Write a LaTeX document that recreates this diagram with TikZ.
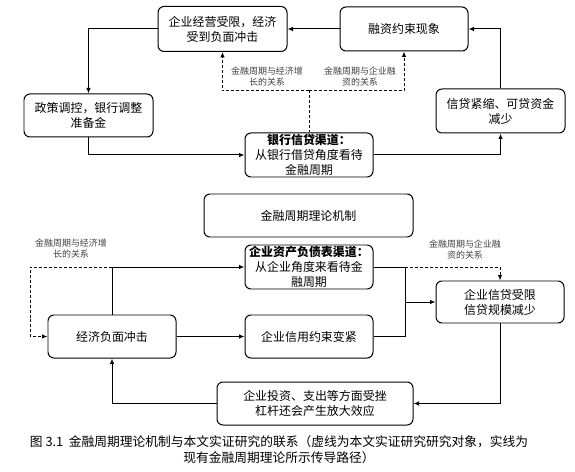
\documentclass[tikz,border=0pt]{standalone}
\usepackage{fontspec}
\setmainfont{Noto Sans CJK SC}
\usetikzlibrary{arrows.meta,shapes,positioning}
\definecolor{labelGray}{rgb}{0.25,0.25,0.25}
\tikzset{
	box/.style={draw, rounded corners=6bp, line width=1pt, minimum width=128bp, minimum height=43bp, inner sep=0pt, align=center, font=\fontsize{12}{15}\selectfont},
	link/.style={line width=1pt},
	flow/.style={link, -{Latex[length=5.5bp,width=4.5bp]}},
	studiedline/.style={line width=1pt, dash pattern=on 3pt off 2pt},
	studied/.style={studiedline, -{Latex[length=5.5bp,width=4.5bp]}},
	relation/.style={align=center, font=\fontsize{9}{11}\selectfont, text=labelGray, inner sep=0pt}
}

\begin{document}
\begin{tikzpicture}[x=1bp, y=-1bp]
			\useasboundingbox (0,0) rectangle (575,472);

			% bank credit channel
			\node[box, minimum width=129bp, minimum height=45bp] (ope) at (222.5,29) {企业经营受限，经济\\受到负面冲击};
			\node[box, minimum height=44bp] (fin) at (404,29) {融资约束现象};
			\node[box, minimum width=129bp] (pol) at (88.5,115.5) {政策调控，银行调整\\准备金};
			\node[box, minimum width=129bp, minimum height=44bp] (crd) at (500.5,111) {信贷紧缩、可贷资金\\减少};
			\node[box, minimum height=44bp] (bank) at (309,155) {\textbf{银行信贷渠道：}\\从银行借贷角度看待\\金融周期};

			% balance sheet channel
			\node[box, minimum width=209bp] (mech) at (308.5,215.5) {金融周期理论机制};
			\node[box, minimum height=44bp] (bal) at (309,267) {\textbf{企业资产负债表渠道：}\\从企业角度来看待金\\融周期};
			\node[box] (shock) at (112,336.5) {经济负面冲击};
			\node[box] (cons) at (309,336.5) {企业信用约束变紧};
			\node[box, minimum height=42bp] (lim) at (500,302) {企业信贷受限\\信贷规模减少};
			\node[box, minimum width=196bp] (inv) at (315,403.5) {企业投资、支出等方面受挫\\杠杆还会产生放大效应};

			% junctions
			\coordinate (dtop) at (309,91);
			\coordinate (hj) at (112,267);
			\coordinate (dl) at (30,267);
			\coordinate (gj) at (405,267);
			\coordinate (mj) at (405,302);

			% edges, top
			\draw[flow] (fin.west) -- (ope.east);
			\draw[flow] (ope.west) -| (pol.north);
			\draw[flow] (pol.south) |- (bank.west);
			\draw[flow] (bank.east) -| (crd.south);
			\draw[flow] (crd.north) |- (fin.east);
			\draw[studiedline] (bank.north) -- (dtop);
			\draw[studied] (dtop) -| (ope.south);
			\draw[studied] (dtop) -| (fin.south);
			\node[relation] (rg1) at (267,77) {金融周期与经济增\\长的关系};
			\node[relation] (rf1) at (360,77) {金融周期与企业融\\资的关系};

			% edges, bottom
			\draw[flow] (shock.north) |- (bal.west);
			\draw[studied] (hj) -- (dl) |- (shock.west);
			\draw[flow] (shock.east) -- (cons.west);
			\draw[link] (bal.east) -| (mj);
			\draw[link] (cons.east) -| (mj);
			\draw[flow] (mj) -- (lim.west);
			\draw[studied] (gj) -| (lim.north);
			\draw[flow] (lim.south) |- (inv.east);
			\draw[flow] (inv.west) -| (shock.south);
			\node[relation] (rg2) at (71,249) {金融周期与经济增\\长的关系};
			\node[relation] (rf2) at (465,250) {金融周期与企业融\\资的关系};

			% caption
			\node[align=center, inner sep=0pt, font=\fontsize{12.8}{16}\selectfont] (cap) at (279,450) {图 3.1\ \ 金融周期理论机制与本文实证研究的联系（虚线为本文实证研究研究对象，实线为\\现有金融周期理论所示传导路径）};
		  \end{tikzpicture}
\end{document}
